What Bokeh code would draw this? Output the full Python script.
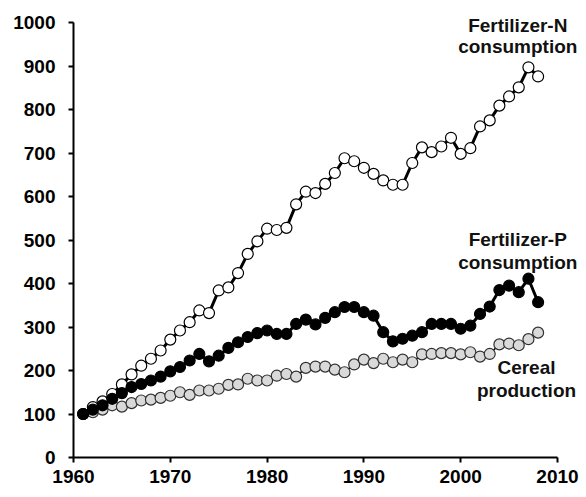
from bokeh.plotting import figure
from bokeh.models import Range1d, FixedTicker
from bokeh.core.properties import value
from bokeh.embed import file_html
from bokeh.resources import INLINE

years = list(range(1961, 2009))
fert_n = [100, 116, 129, 146, 168, 191, 211, 227, 246, 271, 292, 311, 338, 332, 384,
          391, 424, 468, 497, 526, 523, 528, 582, 611, 608, 629, 654, 688, 681, 666,
          652, 637, 627, 627, 677, 713, 702, 715, 735, 698, 711, 761, 775, 809, 830,
          851, 897, 876]
fert_p = [100, 110, 120, 135, 148, 162, 169, 177, 186, 198, 208, 223, 238, 221, 234,
          252, 265, 277, 286, 292, 284, 284, 307, 317, 306, 321, 334, 346, 346, 334,
          326, 288, 267, 273, 280, 288, 307, 307, 307, 296, 303, 330, 347, 385, 395,
          380, 411, 357]
cereal = [100, 104, 110, 120, 117, 125, 131, 133, 137, 142, 150, 144, 154, 154, 158,
          167, 168, 181, 177, 177, 188, 192, 186, 206, 209, 209, 202, 196, 214, 225,
          217, 227, 219, 225, 219, 237, 238, 240, 240, 237, 242, 232, 238, 260, 262,
          258, 272, 287]
x_ticks = [1960, 1970, 1980, 1990, 2000, 2010]
y_ticks = list(range(0, 1001, 100))

FONT = "Liberation Sans"

# frame extends past 2010 / 1000 so the series labels are not clipped;
# the axis lines themselves are bounded to the data span
p = figure(width=586, height=497, output_backend="svg", toolbar_location=None,
           x_range=Range1d(1960, 2013.0), y_range=Range1d(0, 1050.6),
           min_border_left=73, min_border_right=0, min_border_top=0,
           min_border_bottom=40)
p.outline_line_color = None
p.xgrid.visible = False
p.ygrid.visible = False
p.background_fill_color = "white"
p.border_fill_color = "white"

for ax in (p.xaxis[0], p.yaxis[0]):
    ax.axis_line_width = 2
    ax.axis_line_color = "black"
    ax.major_tick_line_width = 2
    ax.major_tick_line_color = "black"
    ax.major_tick_out = 5
    ax.major_tick_in = 0
    ax.minor_tick_line_color = None
    ax.major_label_text_font = FONT
    ax.major_label_text_font_style = "bold"
    ax.major_label_text_font_size = "19px"
    ax.major_label_text_color = "black"

p.xaxis[0].ticker = FixedTicker(ticks=x_ticks)
p.xaxis[0].bounds = (1960, 2010)
p.yaxis[0].ticker = FixedTicker(ticks=y_ticks)
p.yaxis[0].bounds = (0, 1000)
p.xaxis[0].major_label_standoff = 7
p.yaxis[0].major_label_standoff = 13

# Cereal production
p.line(years, cereal, line_color="black", line_width=1.5)
p.scatter(years, cereal, size=11, fill_color="#d9d9d9", line_color="#303030", line_width=1.2)
# Fertilizer-N
p.line(years, fert_n, line_color="black", line_width=3)
p.scatter(years, fert_n, size=11, fill_color="white", line_color="black", line_width=1.2)
# Fertilizer-P
p.line(years, fert_p, line_color="black", line_width=3)
p.scatter(years, fert_p, size=11, fill_color="black", line_color="black", line_width=1.2)

lab = dict(text_font=value(FONT), text_font_style="bold", text_font_size="19px",
           text_align="center", text_baseline="middle", text_color="#111111")
p.text(x=[2005.9, 2005.9], y=[994, 944], text=["Fertilizer-N", "consumption"], **lab)
p.text(x=[2005.9, 2005.9], y=[502, 449], text=["Fertilizer-P", "consumption"], **lab)
p.text(x=[2006.8, 2006.8], y=[207, 154], text=["Cereal", "production"], **lab)

open("out.html", "w").write(file_html(p, INLINE))
